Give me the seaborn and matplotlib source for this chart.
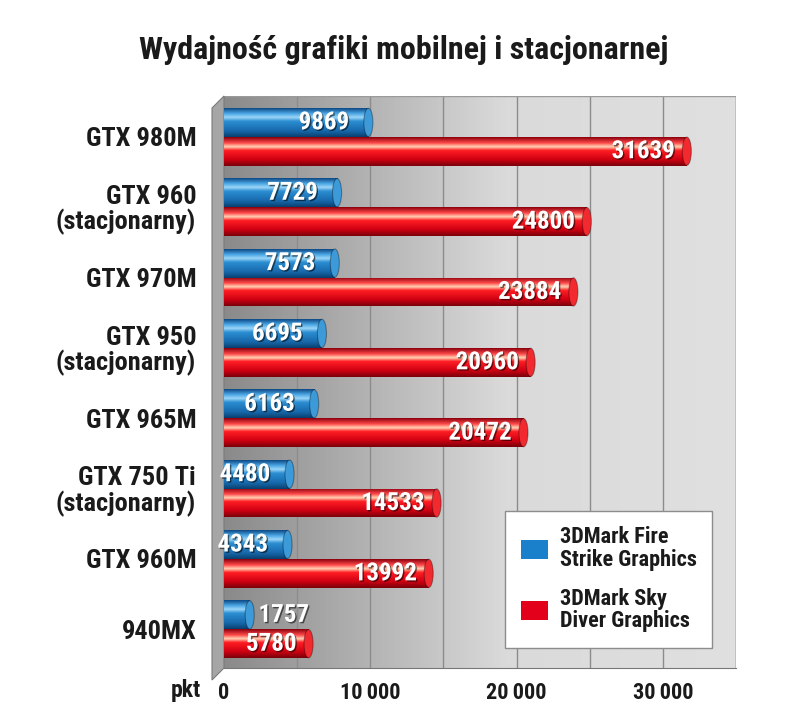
import numpy as np
import pandas as pd
import matplotlib
matplotlib.use('Agg')
import matplotlib.pyplot as plt
import matplotlib.patheffects as pe
from matplotlib import font_manager
from matplotlib.colors import LinearSegmentedColormap
from matplotlib.patches import Ellipse, Polygon
import seaborn as sns

# Data
gpus = ['GTX 980M', 'GTX 960\n(stacjonarny)', 'GTX 970M', 'GTX 950\n(stacjonarny)',
        'GTX 965M', 'GTX 750 Ti\n(stacjonarny)', 'GTX 960M', '940MX']
fire_strike = [9869, 7729, 7573, 6695, 6163, 4480, 4343, 1757]
sky_diver = [31639, 24800, 23884, 20960, 20472, 14533, 13992, 5780]
series = ['3DMark Fire\nStrike Graphics', '3DMark Sky\nDiver Graphics']
x_ticks = [0, 5000, 10000, 15000, 20000, 25000, 30000, 35000]
x_labels = ['0', '', '10\u2009000', '', '20\u2009000', '', '30\u2009000', '']

df = pd.DataFrame({
    'gpu': gpus * 2,
    'score': fire_strike + sky_diver,
    'test': [series[0]] * len(gpus) + [series[1]] * len(gpus),
})

# pick a narrow-ish font that is actually installed
installed = {f.name for f in font_manager.fontManager.ttflist}
main_font = 'DejaVu Sans'
for cand in ['Liberation Sans Narrow', 'Roboto Condensed', 'Roboto', 'Lato']:
    if cand in installed:
        main_font = cand
        break

sns.set_style('white')
plt.rcParams['font.family'] = [main_font, 'DejaVu Sans']

fig = plt.figure(figsize=(8, 7.08), dpi=100)
ax = fig.add_axes([0.28, 0.0565, 0.64, 0.8079])

blue = '#1b80cc'
red = '#e2001a'
sns.barplot(data=df, y='gpu', x='score', hue='test', orient='h',
            palette=[blue, red], saturation=1, width=0.82, ax=ax, zorder=3,
            edgecolor='none', legend=True)

# background gradient (dark on the left, light on the right)
bg = LinearSegmentedColormap.from_list('bg', [(0, '#8a8a8a'), (0.55, '#dadada'), (1, '#e0e0e0')])
ax.imshow(np.linspace(0, 1, 256)[None, :], cmap=bg, aspect='auto',
          extent=(0, 1, 0, 1), transform=ax.transAxes, zorder=0)

# cylinder shading on every bar
cmaps = [
    LinearSegmentedColormap.from_list('b', [(0, '#0d4a85'), (0.18, '#4aa6e4'), (0.32, '#9ad6f7'),
                                            (0.45, '#2c8ed2'), (0.8, '#1668aa'), (1, '#0a3f70')]),
    LinearSegmentedColormap.from_list('r', [(0, '#8c000d'), (0.2, '#ff4a4a'), (0.33, '#ffd2b4'),
                                            (0.46, '#ff1e24'), (0.78, '#cf0013'), (1, '#7a000a')]),
]
cap_colors = ['#3c9ad9', '#f22a30']
grad = np.linspace(0, 1, 64)[:, None]
for container, cm, capc in zip(ax.containers, cmaps, cap_colors):
    for bar in container:
        x0, y0 = bar.get_x(), bar.get_y()
        w, h = bar.get_width(), bar.get_height()
        im = ax.imshow(grad, cmap=cm, aspect='auto', origin='upper',
                       extent=(x0, x0 + w, y0 + h, y0), zorder=4)
        im.set_clip_path(bar)
        ax.add_patch(Ellipse((x0 + w, y0 + h / 2), 620, h * 0.98, facecolor=capc,
                             edgecolor='#00000055', lw=0.8, zorder=5))

# value labels
shadow = [pe.withSimplePatchShadow(offset=(1, -1), shadow_rgbFace='black', alpha=0.55)]
for container, vals, off in zip(ax.containers, [fire_strike, sky_diver], [1300, 800]):
    for bar, v in zip(container, vals):
        yc = bar.get_y() + bar.get_height() / 2
        if v < 3000:
            ax.text(v + 600, yc, str(v), ha='left', va='center', color='white',
                    fontsize=18, fontweight='bold', zorder=6, path_effects=shadow)
        else:
            ax.text(v - off, yc, str(v), ha='right', va='center', color='white',
                    fontsize=18, fontweight='bold', zorder=6, path_effects=shadow)

ax.set_xlim(0, 35000)
ax.set_ylim(len(gpus) - 0.45, -0.58)
ax.set_xticks(x_ticks)
ax.set_xticklabels(x_labels, fontsize=16, fontweight='bold', color='#1a1a1a')
ax.tick_params(axis='x', length=7, width=1, color='#777777', direction='out', pad=3)
ax.tick_params(axis='y', length=0, pad=20)
for lab in ax.get_yticklabels():
    lab.set_fontsize(19)
    lab.set_fontweight('bold')
    lab.set_color('#1a1a1a')
    lab.set_multialignment('right')
    lab.set_linespacing(1.0)
ax.set_xlabel('')
ax.set_ylabel('')
ax.xaxis.grid(True, color='#8c8c8c', lw=1, zorder=1)
ax.set_axisbelow(True)
for side in ['top', 'right', 'left']:
    ax.spines[side].set_visible(False)
ax.spines['bottom'].set_color('#777777')
ax.spines['bottom'].set_zorder(2)
ax.plot([1, 1], [0, 1], transform=ax.transAxes, color='#8c8c8c', lw=1, zorder=1)
ax.plot([0, 1], [1, 1], transform=ax.transAxes, color='#9a9a9a', lw=1, zorder=1)

# fake 3D side wall and floor edge
dx, dy = 12 / 512, 12 / 572
wall = Polygon([(0, 0), (0, 1), (-dx, 1 - dy), (-dx, -dy)], closed=True,
               transform=ax.transAxes, facecolor='#a6a6a6', edgecolor='#7a7a7a',
               lw=0.8, clip_on=False, zorder=2)
ax.add_patch(wall)

ax.text(-0.045, -0.04, 'pkt', transform=ax.transAxes, ha='right', va='center',
        fontsize=17, fontweight='bold', color='#1a1a1a')

handles, _ = ax.get_legend_handles_labels()
leg = ax.legend(handles, series, loc='lower right', bbox_to_anchor=(0.953, 0.035),
                borderaxespad=0, frameon=True, fancybox=False, edgecolor='#8c8c8c',
                framealpha=1, prop={'size': 16, 'weight': 'semibold'},
                handlelength=1.25, handleheight=0.95, labelspacing=0.75,
                borderpad=0.7, handletextpad=0.5)
leg.set_zorder(10)
for t in leg.get_texts():
    t.set_color('#1a1a1a')
    t.set_linespacing(1.05)

fig.text(0.504, 0.929, 'Wydajność grafiki mobilnej i stacjonarnej', ha='center', va='center',
         fontsize=23, fontweight='bold', color='#1a1a1a')

plt.savefig('out.png', dpi=100)
plt.close()
